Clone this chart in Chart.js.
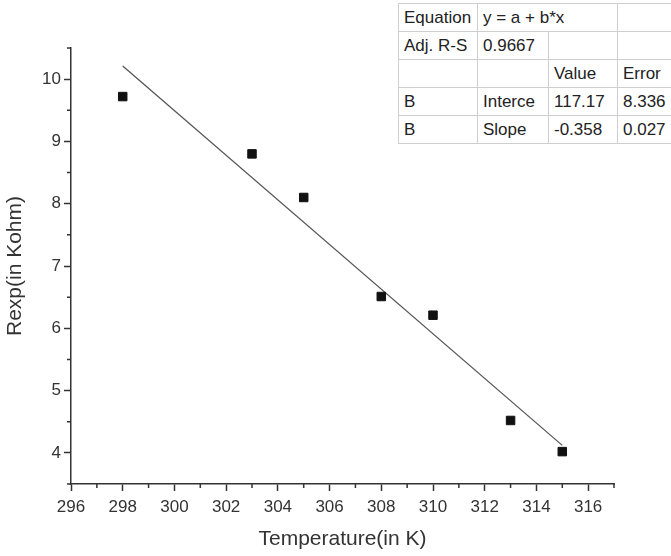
<!DOCTYPE html>
<html>
<head>
<meta charset="utf-8">
<script src="https://cdn.jsdelivr.net/npm/chart.js@4"></script>
<style>
  html, body { margin: 0; padding: 0; background: #fff; }
  #wrap { position: relative; width: 671px; height: 556px; overflow: hidden; }
  canvas { position: absolute; left: 0; top: 0; }
  #fit {
    position: absolute; left: 398px; top: 3px; width: 289px;
    border-collapse: collapse; background: #fff;
    font-family: "Liberation Sans", Arial, sans-serif; font-size: 17px; color: #222;
    table-layout: fixed;
  }
  #fit td {
    border: 1px solid #cfcfcf; height: 28px; padding: 0 0 0 5px;
    white-space: nowrap; overflow: hidden; box-sizing: border-box; line-height: 27px;
  }
</style>
</head>
<body>
<div id="wrap">
  <canvas id="c" width="671" height="556"></canvas>
  <table id="fit"><colgroup><col style="width:79px"><col style="width:71px"><col style="width:69px"><col style="width:70px"></colgroup><tbody></tbody></table>
</div>
<script>
// ---- data ----
const temperatures = [298, 303, 305, 308, 310, 313, 315];
const resistances  = [9.72, 8.80, 8.10, 6.51, 6.21, 4.52, 4.02];
const fitX = [298, 315];
const fitY = [10.21, 4.12];
const xTitle = 'Temperature(in K)';
const yTitle = 'Rexp(in Kohm)';
// null = merged into the cell on its left
const tableRows = [
  ['Equation', 'y = a + b*x', null, ''],
  ['Adj. R-S', '0.9667', '', ''],
  ['', '', 'Value', 'Error'],
  ['B', 'Interce', '117.17', '8.336'],
  ['B', 'Slope', '-0.358', '0.027']
];

// ---- fit table ----
const tbody = document.querySelector('#fit tbody');
tableRows.forEach(r => {
  const tr = document.createElement('tr');
  let last = null;
  r.forEach(c => {
    if (c === null && last) { last.colSpan += 1; return; }
    const td = document.createElement('td'); td.textContent = c; tr.appendChild(td); last = td;
  });
  tbody.appendChild(tr);
});

const FONT = '"Liberation Sans", Arial, sans-serif';
const AX = '#333';
const isMajorX = v => Math.abs(v % 2) < 1e-9;
const isMajorY = v => Math.abs(v - Math.round(v)) < 1e-9;

new Chart(document.getElementById('c'), {
  type: 'scatter',
  data: {
    datasets: [
      {
        data: temperatures.map((t, i) => ({ x: t, y: resistances[i] })),
        pointStyle: 'rect', pointRadius: 6, pointHoverRadius: 6,
        backgroundColor: '#111', borderColor: '#111', borderWidth: 1
      },
      {
        data: fitX.map((t, i) => ({ x: t, y: fitY[i] })),
        showLine: true, pointRadius: 0, borderColor: '#555', borderWidth: 1.3, fill: false
      }
    ]
  },
  options: {
    responsive: false, animation: false,
    layout: { padding: { top: 48, right: 57, bottom: 0, left: 0 } },
    plugins: { legend: { display: false }, tooltip: { enabled: false } },
    scales: {
      x: {
        type: 'linear', min: 296, max: 317,
        afterFit(s) { s.height = 72; },
        grid: {
          drawOnChartArea: false, tickLength: 7, tickWidth: 1.5,
          tickColor: c => (c.tick && isMajorX(c.tick.value)) ? AX : 'rgba(0,0,0,0)'
        },
        border: { display: true, color: AX, width: 1.5 },
        ticks: {
          stepSize: 1, autoSkip: false, maxRotation: 0, padding: 6,
          color: AX, font: { family: FONT, size: 17 },
          callback: v => (isMajorX(v) ? String(v) : '')
        },
        title: { display: true, text: xTitle, color: AX, font: { family: FONT, size: 21 }, padding: { top: 0, bottom: 4 } }
      },
      y: {
        type: 'linear', min: 3.5, max: 10.5,
        afterFit(s) { s.width = 71; },
        grid: {
          drawOnChartArea: false, tickLength: 7, tickWidth: 1.5,
          tickColor: c => (c.tick && isMajorY(c.tick.value)) ? AX : 'rgba(0,0,0,0)'
        },
        border: { display: true, color: AX, width: 1.5 },
        ticks: {
          stepSize: 0.5, autoSkip: false, padding: 3,
          color: AX, font: { family: FONT, size: 17 },
          callback: v => (isMajorY(v) ? String(Math.round(v)) : '')
        },
        title: { display: true, text: yTitle, color: AX, font: { family: FONT, size: 21 }, padding: { top: 3, bottom: 0 } }
      }
    }
  },
  plugins: [{
    id: 'minorTicks',
    afterDraw(chart) {
      const ctx = chart.ctx;
      ctx.save();
      ctx.strokeStyle = AX; ctx.lineWidth = 1.5;
      ctx.beginPath();
      chart.scales.x.ticks.forEach(t => {
        if (isMajorX(t.value)) return;
        const px = chart.scales.x.getPixelForValue(t.value);
        ctx.moveTo(px, chart.scales.x.top); ctx.lineTo(px, chart.scales.x.top + 4);
      });
      chart.scales.y.ticks.forEach(t => {
        if (isMajorY(t.value)) return;
        const py = chart.scales.y.getPixelForValue(t.value);
        ctx.moveTo(chart.scales.y.right - 4, py); ctx.lineTo(chart.scales.y.right, py);
      });
      ctx.stroke();
      ctx.restore();
    }
  }]
});
</script>
</body>
</html>
